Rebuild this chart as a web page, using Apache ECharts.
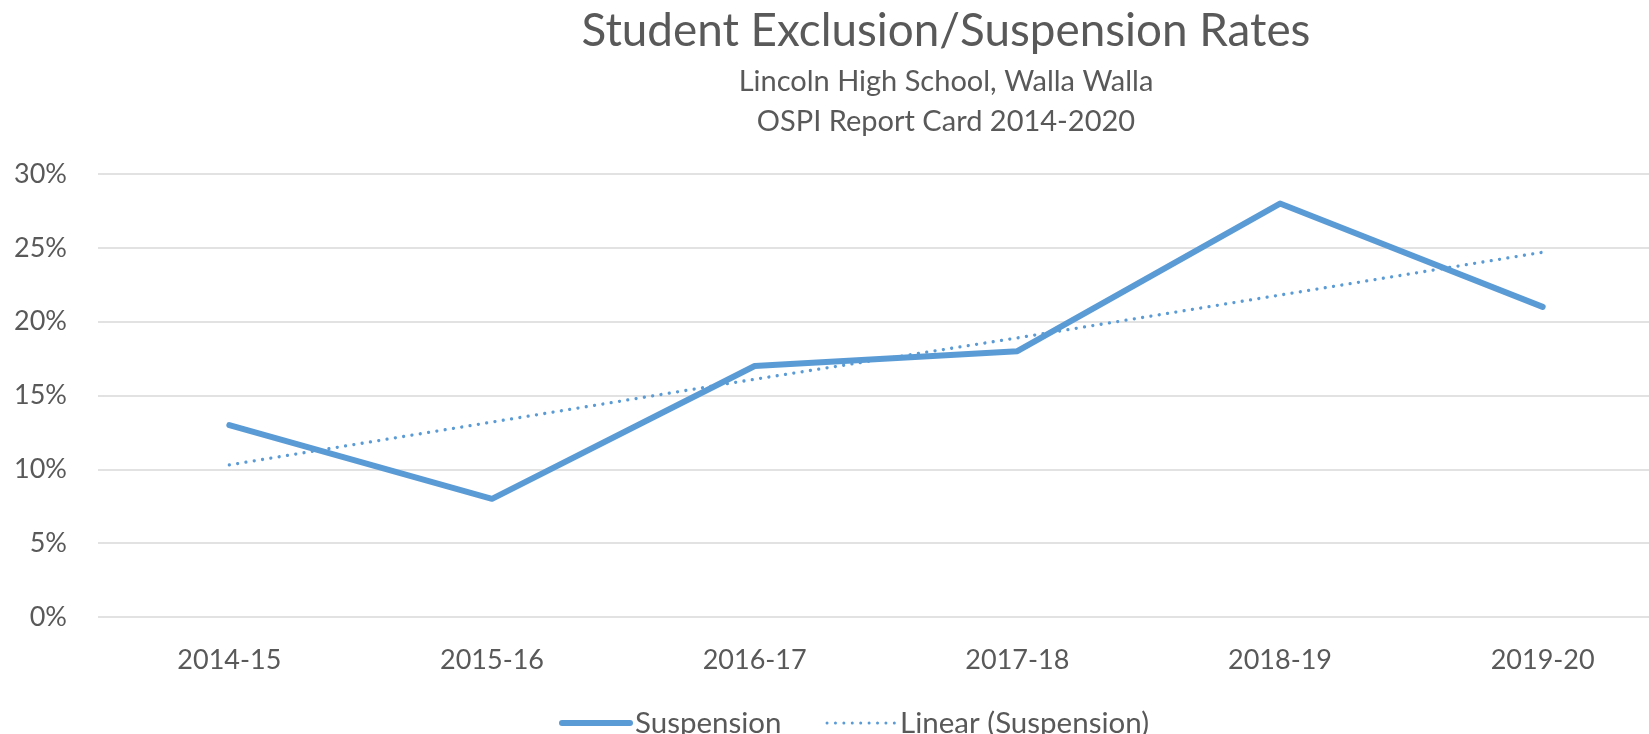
<!DOCTYPE html>
<html>
<head>
<meta charset="utf-8">
<title>Student Exclusion/Suspension Rates</title>
<script src="https://cdn.jsdelivr.net/npm/echarts@6/dist/echarts.min.js"></script>
<style>
  html, body { margin: 0; padding: 0; background: #ffffff; overflow: hidden; }
  #chart { width: 1649px; height: 734px; }
</style>
</head>
<body>
<div id="chart"></div>
<script>
// School years on the category axis
const years = ['2014-15', '2015-16', '2016-17', '2017-18', '2018-19', '2019-20'];
// Exclusion/suspension rate per year, in percent
const suspension = [13, 8, 17, 18, 28, 21];
// Linear trend of the suspension rate, in percent
const linearTrend = [10.3, 13.2, 16.1, 18.9, 21.8, 24.7];
// Value axis range and step, in percent
const yMin = 0, yMax = 30, yStep = 5;

const FONT = 'Lato, "Open Sans", sans-serif';
const TEXT = '#595959';
const BLUE = '#5B9BD5';
const NO_MARK = { color: 'rgba(0,0,0,0)', borderWidth: 0 };

const chart = echarts.init(document.getElementById('chart'), null, { renderer: 'canvas' });

chart.setOption({
  backgroundColor: '#ffffff',
  animation: false,
  title: [
    {
      text: 'Student Exclusion/Suspension Rates',
      left: 941, top: 3, textAlign: 'center',
      textStyle: { fontFamily: FONT, fontSize: 45.8, fontWeight: 'normal', color: TEXT }
    },
    {
      text: 'Lincoln High School, Walla Walla',
      left: 941, top: 62, textAlign: 'center',
      textStyle: { fontFamily: FONT, fontSize: 29, fontWeight: 'normal', color: TEXT }
    },
    {
      text: 'OSPI Report Card 2014-2020',
      left: 941, top: 102, textAlign: 'center',
      textStyle: { fontFamily: FONT, fontSize: 29, fontWeight: 'normal', color: TEXT }
    }
  ],
  legend: {
    left: 554, top: 703,
    itemWidth: 68, itemHeight: 16, itemGap: 44,
    textStyle: { fontFamily: FONT, fontSize: 29.5, color: TEXT },
    data: [
      { name: 'Suspension', itemStyle: NO_MARK, lineStyle: { width: 6, cap: 'round' } },
      { name: 'Linear (Suspension)', itemStyle: NO_MARK, lineStyle: { width: 3, cap: 'round' } }
    ]
  },
  // The plot area runs a little past the right edge of the canvas
  grid: { left: 98, top: 174, width: 1576, height: 443, containLabel: false, outerBoundsMode: 'none' },
  xAxis: {
    type: 'category',
    data: years,
    boundaryGap: true,
    axisLine: { show: false },
    axisTick: { show: false },
    axisLabel: { fontFamily: FONT, fontSize: 27, color: TEXT, margin: 30 }
  },
  yAxis: {
    type: 'value',
    min: yMin, max: yMax, interval: yStep,
    axisLine: { show: false },
    axisTick: { show: false },
    axisLabel: { fontFamily: FONT, fontSize: 27, color: TEXT, margin: 31, formatter: '{value}%' },
    splitLine: { lineStyle: { color: '#D9D9D9', width: 1.5 } }
  },
  series: [
    {
      name: 'Suspension',
      type: 'line',
      data: suspension,
      symbol: 'none',
      lineStyle: { color: BLUE, width: 6, cap: 'round', join: 'round' },
      itemStyle: { color: BLUE },
      z: 3
    },
    {
      name: 'Linear (Suspension)',
      type: 'line',
      data: linearTrend,
      symbol: 'none',
      lineStyle: { color: BLUE, width: 3.3, type: [0.01, 8.4], cap: 'round' },
      itemStyle: { color: BLUE },
      z: 2
    }
  ]
});
</script>
</body>
</html>
